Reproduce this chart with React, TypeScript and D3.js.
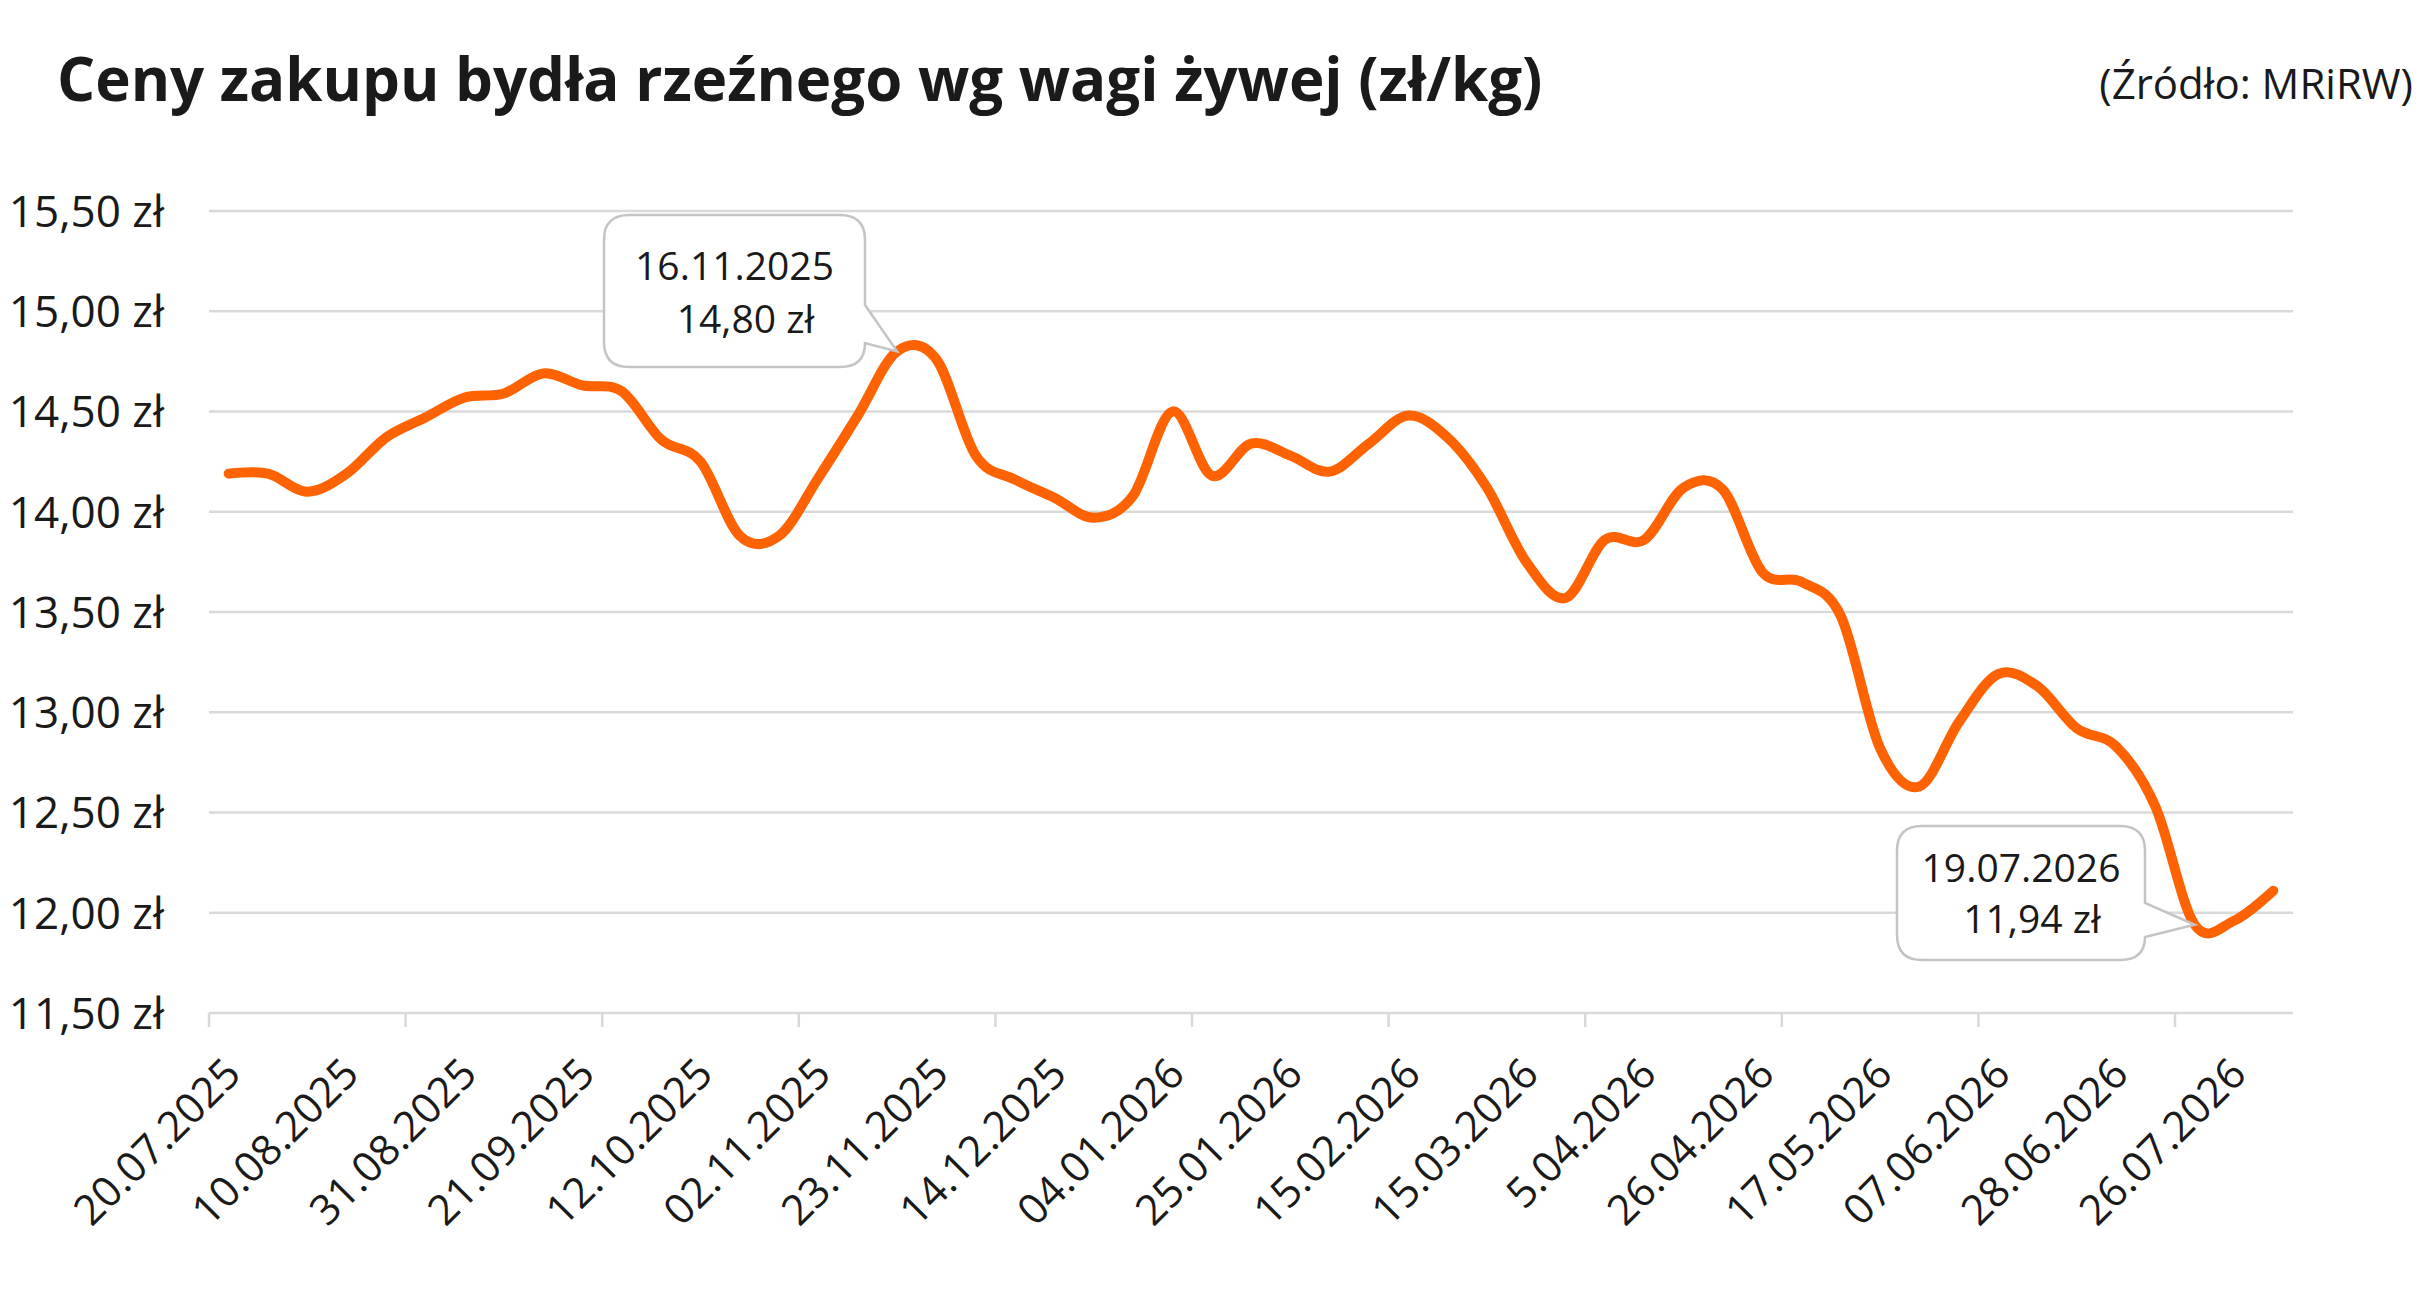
import React from 'react';
import * as d3 from 'd3';

const W = 2431;
const H = 1297;

const title = 'Ceny zakupu bydła rzeźnego wg wagi żywej (zł/kg)';
const source = '(Źródło: MRiRW)';

// tygodniowe notowania (kategorie osi X)
const dates = [
    '20.07.2025', '27.07.2025', '03.08.2025', '10.08.2025', '17.08.2025', '24.08.2025',
    '31.08.2025', '07.09.2025', '14.09.2025', '21.09.2025', '28.09.2025', '05.10.2025',
    '12.10.2025', '19.10.2025', '26.10.2025', '02.11.2025', '09.11.2025', '16.11.2025',
    '23.11.2025', '30.11.2025', '07.12.2025', '14.12.2025', '21.12.2025', '28.12.2025',
    '04.01.2026', '11.01.2026', '18.01.2026', '25.01.2026', '01.02.2026', '08.02.2026',
    '15.02.2026', '22.02.2026', '01.03.2026', '15.03.2026', '22.03.2026', '29.03.2026',
    '5.04.2026', '12.04.2026', '19.04.2026', '26.04.2026', '03.05.2026', '10.05.2026',
    '17.05.2026', '24.05.2026', '31.05.2026', '07.06.2026', '14.06.2026', '21.06.2026',
    '28.06.2026', '12.07.2026', '19.07.2026', '26.07.2026', '02.08.2026',
];

// cena zł/kg
const prices = [
    14.19, 14.19, 14.10, 14.19, 14.37, 14.47,
    14.57, 14.59, 14.69, 14.63, 14.60, 14.36,
    14.25, 13.88, 13.88, 14.17, 14.48, 14.80,
    14.76, 14.28, 14.16, 14.07, 13.97, 14.08,
    14.50, 14.18, 14.34, 14.28, 14.20, 14.34,
    14.48, 14.37, 14.12, 13.75, 13.57, 13.86,
    13.86, 14.12, 14.11, 13.70, 13.65, 13.48,
    12.82, 12.63, 12.95, 13.19, 13.13, 12.92,
    12.83, 12.53, 11.94, 11.96, 12.11,
];

const yTicks = [11.5, 12, 12.5, 13, 13.5, 14, 14.5, 15, 15.5];
const labelEvery = 3;
const tickEvery = 5;

// adnotacje: data + położenie dymka
const callouts = [
    { date: '16.11.2025', box: { x0: 604, y0: 215, x1: 865, y1: 367 }, tail: [305, 343], lines: [280, 333] },
    { date: '19.07.2026', box: { x0: 1897, y0: 826, x1: 2145, y1: 960 }, tail: [903, 937], lines: [882, 933] },
];

const FONT = '"Open Sans", "Noto Sans", sans-serif';
const fmt = (v: number) => d3.format('.2f')(v).replace('.', ',') + ' zł';

function calloutPath(b: { x0: number; y0: number; x1: number; y1: number }, tail: number[], tx: number, ty: number) {
    const r = 25;
    return [
        `M${b.x0 + r},${b.y0}`,
        `H${b.x1 - r}`,
        `Q${b.x1},${b.y0} ${b.x1},${b.y0 + r}`,
        `V${tail[0]}`,
        `L${tx},${ty}`,
        `L${b.x1},${tail[1]}`,
        `V${Math.max(tail[1], b.y1 - r)}`,
        `Q${b.x1},${b.y1} ${b.x1 - r},${b.y1}`,
        `H${b.x0 + r}`,
        `Q${b.x0},${b.y1} ${b.x0},${b.y1 - r}`,
        `V${b.y0 + r}`,
        `Q${b.x0},${b.y0} ${b.x0 + r},${b.y0}`,
        'Z',
    ].join(' ');
}

const App: React.FC = () => {
    const x = d3.scaleBand().domain(dates).range([209, 2293]).padding(0);
    const bw = x.bandwidth();
    const cx = (d: string) => (x(d) as number) + bw / 2;
    const y = d3.scaleLinear().domain([11.5, 15.5]).range([1013, 211]);

    const line = d3
        .line<number>()
        .x((_, i) => cx(dates[i]))
        .y(v => y(v))
        .curve(d3.curveCardinal.tension(0));

    return (
        <svg width={W} height={H} style={{ position: 'absolute', left: 0, top: 0, background: '#fff' }}>
            <text x={57} y={101} fontFamily={FONT} fontWeight={700} fontSize={60} fill="#1a1a1a">
                {title}
            </text>
            <text x={2413} y={99} textAnchor="end" fontFamily={FONT} fontSize={42} fill="#1a1a1a">
                {source}
            </text>

            {/* siatka */}
            {yTicks.map(t => (
                <g key={t}>
                    <line x1={209} x2={2293} y1={y(t)} y2={y(t)} stroke="#d9d9d9" strokeWidth={2.5} />
                    <text
                        x={164}
                        y={y(t)}
                        dy="0.36em"
                        textAnchor="end"
                        fontFamily={FONT}
                        fontSize={44}
                        fill="#1a1a1a"
                    >
                        {fmt(t)}
                    </text>
                </g>
            ))}

            {/* znaczniki osi X */}
            {dates
                .filter((_, i) => i % tickEvery === 0)
                .map(d => (
                    <line key={d} x1={x(d)} x2={x(d)} y1={y(11.5)} y2={y(11.5) + 14} stroke="#d9d9d9" strokeWidth={2.5} />
                ))}

            {dates
                .filter((_, i) => i % labelEvery === 0)
                .map(d => (
                    <text
                        key={d}
                        transform={`translate(${cx(d) - 7},1055) rotate(-45)`}
                        dy="0.72em"
                        textAnchor="end"
                        fontFamily={FONT}
                        fontSize={42}
                        fill="#1a1a1a"
                    >
                        {d}
                    </text>
                ))}

            <path d={line(prices) as string} fill="none" stroke="#ff6200" strokeWidth={10} strokeLinecap="round" strokeLinejoin="round" />

            {callouts.map(c => {
                const i = dates.indexOf(c.date);
                const tx = cx(c.date);
                const ty = y(prices[i]);
                const mid = (c.box.x0 + c.box.x1) / 2;
                return (
                    <g key={c.date}>
                        <path d={calloutPath(c.box, c.tail, tx, ty)} fill="#fff" stroke="#c4c4c4" strokeWidth={2.5} />
                        <text x={mid} y={c.lines[0]} textAnchor="middle" fontFamily={FONT} fontSize={39} fill="#1a1a1a">
                            {c.date}
                        </text>
                        <text x={mid + 11} y={c.lines[1]} textAnchor="middle" fontFamily={FONT} fontSize={39} fill="#1a1a1a">
                            {fmt(prices[i])}
                        </text>
                    </g>
                );
            })}
        </svg>
    );
};

export default App;
